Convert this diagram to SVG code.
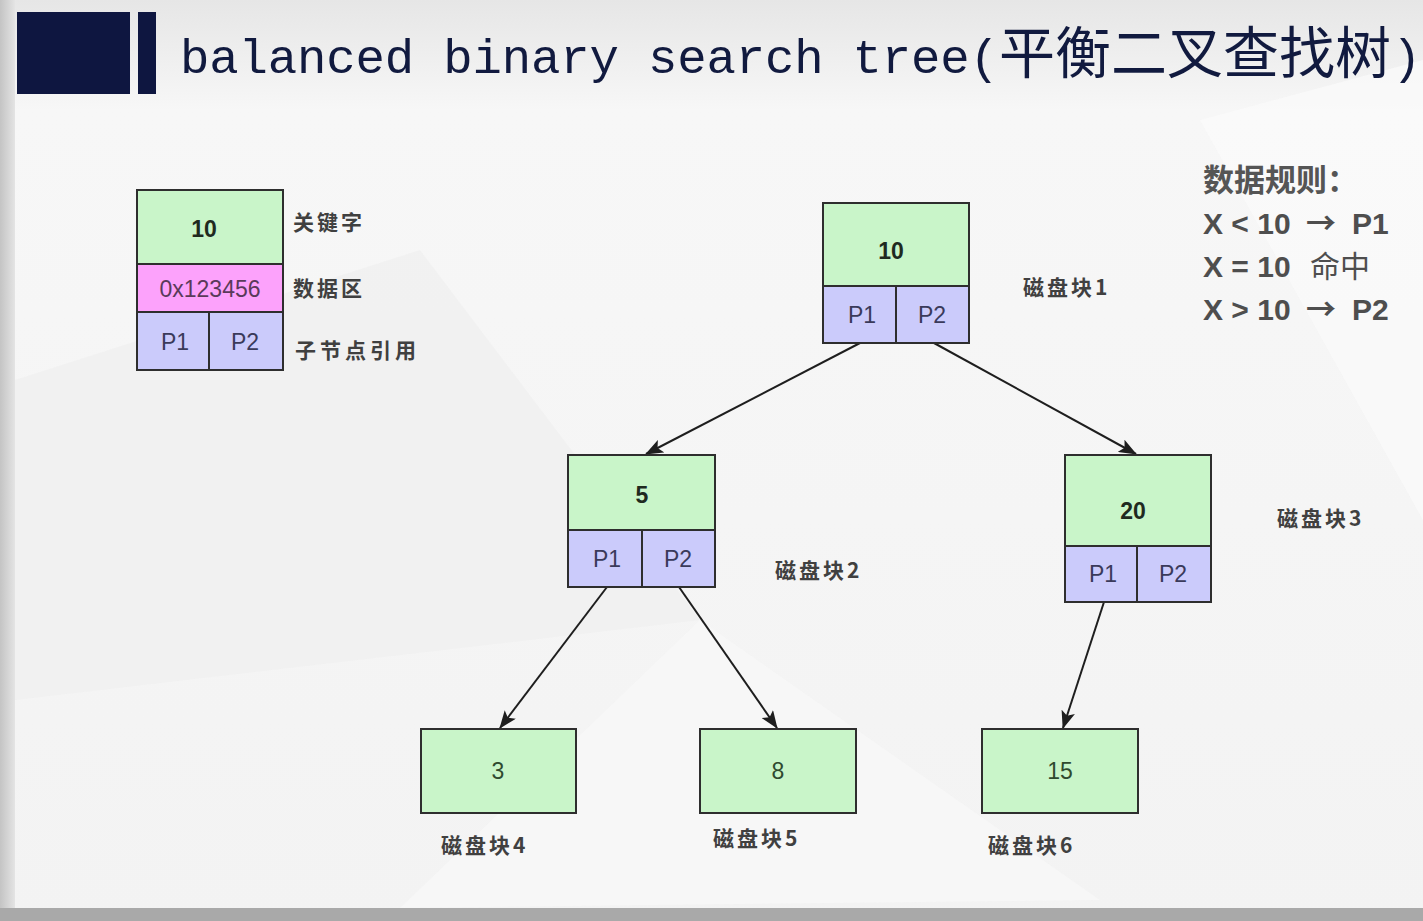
<svg xmlns="http://www.w3.org/2000/svg" width="1423" height="921" viewBox="0 0 1423 921">
<defs>
<linearGradient id="bg" x1="0" y1="0" x2="0" y2="1">
<stop offset="0" stop-color="#e6e6e6"/>
<stop offset="0.12" stop-color="#f7f7f7"/>
<stop offset="1" stop-color="#f3f3f3"/>
</linearGradient>
<linearGradient id="lft" x1="0" y1="0" x2="1" y2="0">
<stop offset="0" stop-color="#c4c4c4"/>
<stop offset="1" stop-color="#e4e4e4"/>
</linearGradient>
<marker id="ah" viewBox="0 0 18 14" refX="17" refY="7" markerWidth="18" markerHeight="14" markerUnits="userSpaceOnUse" orient="auto">
<path d="M0,0 L18,7 L0,14 L4,7 Z" fill="#1e1e1e"/>
</marker>
<style>
.g{fill:#c9f5c9;stroke:#2e2e2e;stroke-width:2}
.p{fill:#fca2fb;stroke:#2e2e2e;stroke-width:2}
.b{fill:#cbcbfb;stroke:#2e2e2e;stroke-width:2}
.k{font-family:"Liberation Sans",Arial,sans-serif;font-size:23px;font-weight:bold;fill:#1f2a1f;text-anchor:middle}
.v{font-family:"Liberation Sans",Arial,sans-serif;font-size:23px;fill:#2f4a2f;text-anchor:middle}
.pp{font-family:"Liberation Sans",Arial,sans-serif;font-size:23px;fill:#3a3a5a;text-anchor:middle}
.lbl{font-family:"Noto Sans CJK SC",sans-serif;font-size:21px;font-weight:bold;fill:#404040;letter-spacing:3px}
.rule{font-family:"Liberation Sans","Noto Sans CJK SC",sans-serif;font-size:30px;font-weight:bold;fill:#4e4e4e}
.arr{font-family:"Noto Sans CJK SC",sans-serif;font-weight:bold}
.edge{stroke:#1e1e1e;stroke-width:2;fill:none;marker-end:url(#ah)}
</style>
</defs>
<rect x="0" y="0" width="1423" height="921" fill="url(#bg)"/>
<polygon points="15,380 420,250 700,620 15,700" fill="#efefef" opacity="0.6"/>
<polygon points="700,620 1100,900 400,908" fill="#f8f8f8" opacity="0.7"/>
<polygon points="1200,120 1423,60 1423,520" fill="#fbfbfb" opacity="0.7"/>
<rect x="0" y="0" width="15" height="921" fill="url(#lft)"/>
<rect x="0" y="908" width="1423" height="13" fill="#a9a9a9"/>

<g id="title">
<rect x="17" y="12" width="113" height="82" fill="#0e1640"/>
<rect x="138" y="12" width="18" height="82" fill="#0e1640"/>
<text x="180" y="73" font-family="Liberation Mono,monospace" font-size="49" fill="#111a3f" textLength="819" lengthAdjust="spacing">balanced binary search tree(</text>
<text x="999" y="73" font-family="Noto Sans CJK SC,sans-serif" font-size="56" fill="#111a3f">平衡二叉查找树</text>
<text x="1392" y="73" font-family="Liberation Mono,monospace" font-size="49" fill="#111a3f">)</text>
</g>

<g id="legend">
<rect class="g" x="137" y="190" width="146" height="74"/>
<rect class="p" x="137" y="264" width="146" height="48"/>
<rect class="b" x="137" y="312" width="72" height="58"/>
<rect class="b" x="209" y="312" width="74" height="58"/>
<text class="k" x="204" y="237">10</text>
<text class="pp" x="210" y="297" style="fill:#5a3a5a">0x123456</text>
<text class="pp" x="175" y="350">P1</text>
<text class="pp" x="245" y="350">P2</text>
<text class="lbl" x="293" y="230">关键字</text>
<text class="lbl" x="293" y="296">数据区</text>
<text class="lbl" x="295" y="358" style="letter-spacing:4px">子节点引用</text>
</g>

<g id="rules">
<text class="rule" x="1203" y="191" style="font-size:31px;fill:#555">数据规则：</text>
<text class="rule" x="1203" y="234">X &lt; 10 <tspan class="arr" x="1306">→</tspan><tspan x="1352">P1</tspan></text>
<text class="rule" x="1203" y="277">X = 10 <tspan x="1310" font-weight="normal">命中</tspan></text>
<text class="rule" x="1203" y="320">X &gt; 10 <tspan class="arr" x="1306">→</tspan><tspan x="1352">P2</tspan></text>
</g>

<g id="connectors">
<line class="edge" x1="860" y1="343" x2="646" y2="454"/>
<line class="edge" x1="934" y1="343" x2="1136" y2="454"/>
<line class="edge" x1="607" y1="587" x2="500" y2="728"/>
<line class="edge" x1="679" y1="587" x2="777" y2="728"/>
<line class="edge" x1="1104" y1="602" x2="1063" y2="728"/>
</g>

<g id="block1">
<rect class="g" x="823" y="203" width="146" height="83"/>
<rect class="b" x="823" y="286" width="73" height="57"/>
<rect class="b" x="896" y="286" width="73" height="57"/>
<text class="k" x="891" y="259">10</text>
<text class="pp" x="862" y="323">P1</text>
<text class="pp" x="932" y="323">P2</text>
<text class="lbl" x="1023" y="295">磁盘块1</text>
</g>

<g id="block2">
<rect class="g" x="568" y="455" width="147" height="75"/>
<rect class="b" x="568" y="530" width="74" height="57"/>
<rect class="b" x="642" y="530" width="73" height="57"/>
<text class="k" x="642" y="503">5</text>
<text class="pp" x="607" y="567">P1</text>
<text class="pp" x="678" y="567">P2</text>
<text class="lbl" x="775" y="578">磁盘块2</text>
</g>

<g id="block3">
<rect class="g" x="1065" y="455" width="146" height="91"/>
<rect class="b" x="1065" y="546" width="72" height="56"/>
<rect class="b" x="1137" y="546" width="74" height="56"/>
<text class="k" x="1133" y="519">20</text>
<text class="pp" x="1103" y="582">P1</text>
<text class="pp" x="1173" y="582">P2</text>
<text class="lbl" x="1277" y="526">磁盘块3</text>
</g>

<g id="block4">
<rect class="g" x="421" y="729" width="155" height="84"/>
<text class="v" x="498" y="779">3</text>
<text class="lbl" x="441" y="853">磁盘块4</text>
</g>

<g id="block5">
<rect class="g" x="700" y="729" width="156" height="84"/>
<text class="v" x="778" y="779">8</text>
<text class="lbl" x="713" y="846">磁盘块5</text>
</g>

<g id="block6">
<rect class="g" x="982" y="729" width="156" height="84"/>
<text class="v" x="1060" y="779">15</text>
<text class="lbl" x="988" y="853">磁盘块6</text>
</g>
</svg>
